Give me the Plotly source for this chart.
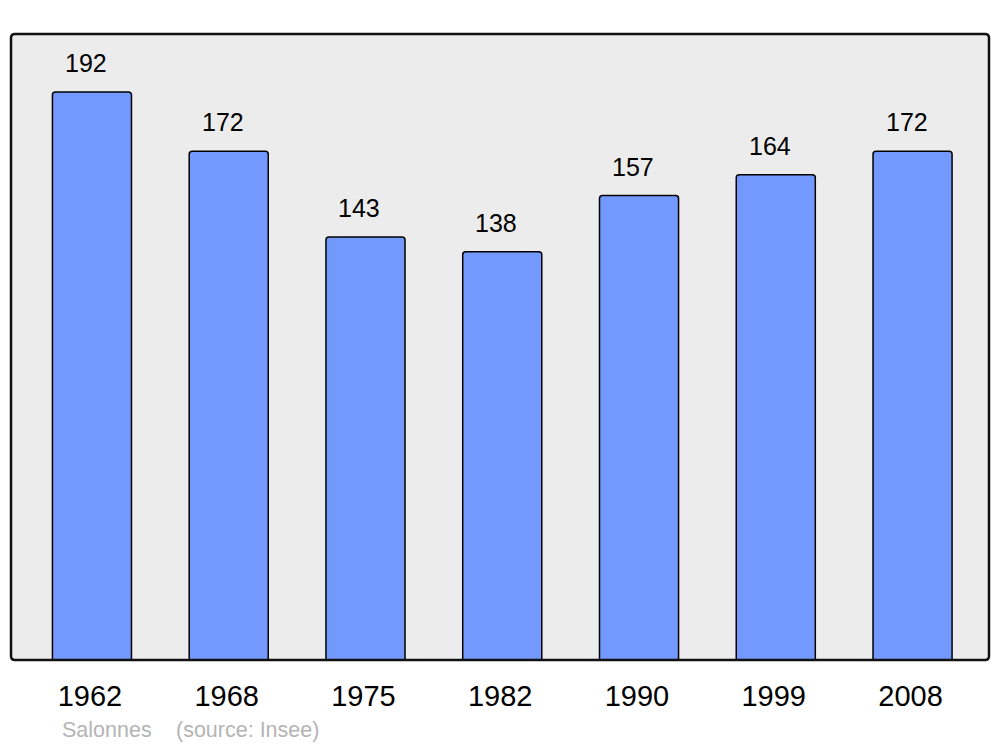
import plotly.graph_objects as go

years = ["1962", "1968", "1975", "1982", "1990", "1999", "2008"]
population = [192, 172, 143, 138, 157, 164, 172]
source_town = "Salonnes"
source_note = "(source: Insee)"

# page has an 8px body margin; size the figure so the plot lands where the reference has it
OFF = 8
W, H = 1000 - OFF, 747 - OFF
ml, mr, mt, mb = 11 - OFF, 11, 34 - OFF, 87
pos = list(range(len(years)))
pw, ph = W - ml - mr, H - mt - mb

FONT = "Liberation Sans, Arial"

fig = go.Figure()
fig.add_trace(go.Bar(
    x=pos, y=population, width=0.578,
    marker=dict(color="#7399FF", line=dict(color="#000000", width=1.5), cornerradius=3),
    hoverinfo="skip",
))

for xi, v in zip(pos, population):
    fig.add_annotation(x=xi, y=v, text=str(v), showarrow=False, yanchor="bottom",
                       yshift=13, xshift=-6, font=dict(family=FONT, size=25, color="#000"))

# rounded border of plot area
r = 4
rx, ry = r / pw, r / ph
path = (f"M {rx},0 L {1-rx},0 Q 1,0 1,{ry} L 1,{1-ry} Q 1,1 {1-rx},1 "
        f"L {rx},1 Q 0,1 0,{1-ry} L 0,{ry} Q 0,0 {rx},0 Z")
fig.add_shape(type="path", path=path, xref="paper", yref="paper",
              line=dict(color="#111", width=2.5), layer="above")

def px_to_paper(xp, yp):
    # page pixel -> paper coords
    fx, fy = xp - OFF, yp - OFF
    return (fx - ml) / pw, (H - mb - fy) / ph

sx1, sy = px_to_paper(60, 730)
sx2, _ = px_to_paper(174, 730)
fig.add_annotation(x=sx1, y=sy, xref="paper", yref="paper",
                   text=source_town, showarrow=False, xanchor="left", yanchor="middle",
                   font=dict(family=FONT, size=21.5, color="#b4b4b4"))
fig.add_annotation(x=sx2, y=sy, xref="paper", yref="paper",
                   text=source_note, showarrow=False, xanchor="left", yanchor="middle",
                   font=dict(family=FONT, size=21.5, color="#b4b4b4"))

fig.update_layout(
    width=W, height=H,
    margin=dict(l=ml, r=mr, t=mt, b=mb),
    paper_bgcolor="#ffffff", plot_bgcolor="#ececec",
    showlegend=False,
    xaxis=dict(tickmode="array", tickvals=[p - 0.015 for p in pos], ticktext=years,
               range=[-0.592, 6.559],
               showgrid=False, zeroline=False, ticks="outside", ticklen=10,
               tickcolor="rgba(0,0,0,0)",
               tickfont=dict(family=FONT, size=29, color="#000")),
    yaxis=dict(range=[0, 211.6], showgrid=False, zeroline=False, showticklabels=False),
)

fig.write_html("out.html")
